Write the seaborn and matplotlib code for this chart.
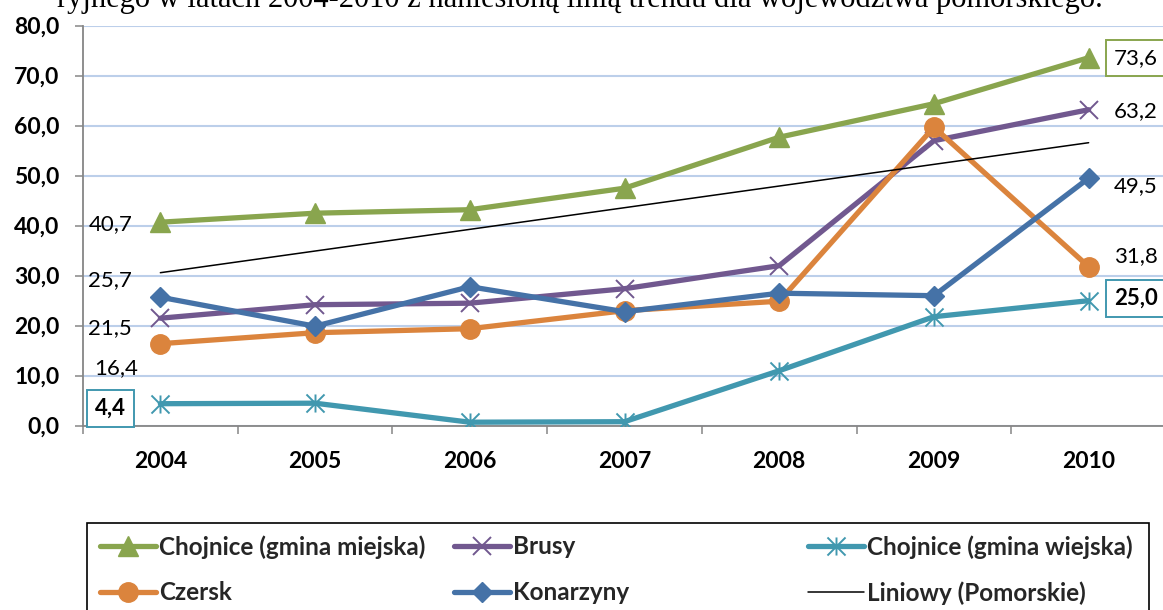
import numpy as np
import pandas as pd
import matplotlib
matplotlib.use("Agg")
import matplotlib.pyplot as plt
import seaborn as sns
from matplotlib.lines import Line2D
from matplotlib.path import Path
from matplotlib.patches import Rectangle

# ---------------- data ----------------
years = ["2004", "2005", "2006", "2007", "2008", "2009", "2010"]
chojnice_miejska = [40.7, 42.5, 43.2, 47.5, 57.7, 64.4, 73.6]
brusy = [21.5, 24.2, 24.5, 27.4, 32.0, 57.0, 63.2]
chojnice_wiejska = [4.4, 4.5, 0.7, 0.8, 11.0, 21.8, 25.0]
czersk = [16.4, 18.6, 19.4, 23.0, 24.9, 59.7, 31.8]
konarzyny = [25.7, 19.9, 27.8, 22.8, 26.5, 26.0, 49.5]
trend_years = ["2004", "2010"]
trend_pomorskie = [30.6, 56.6]
series_names = ["Chojnice (gmina miejska)", "Brusy", "Chojnice (gmina wiejska)",
                "Czersk", "Konarzyny", "Liniowy (Pomorskie)"]
y_ticks = [0, 10, 20, 30, 40, 50, 60, 70, 80]
header_text = "ryjnego w latach 2004-2010 z naniesioną linią trendu dla województwa pomorskiego."

# ---------------- style ----------------
W, H = 1163, 610
DPI = 100
sns.set_theme(style="white")
plt.rcParams["font.family"] = ["Lato", "DejaVu Sans"]

C_GREEN = "#89A54E"
C_PURPLE = "#71588F"
C_TEAL = "#4198AF"
C_ORANGE = "#DB843D"
C_BLUE = "#4572A7"
C_GRID = "#BCCFEA"
C_AXIS = "#868686"

star = Path([(0, -1), (0, 1), (-1, -1), (1, 1), (-1, 1), (1, -1)],
            [Path.MOVETO, Path.LINETO, Path.MOVETO, Path.LINETO, Path.MOVETO, Path.LINETO])

LW = 3.8
styles = [
    dict(color=C_GREEN, marker="^", ms=14, mec=C_GREEN, mfc=C_GREEN, mew=1),
    dict(color=C_PURPLE, marker="x", ms=13, mec=C_PURPLE, mew=1.4),
    dict(color=C_TEAL, marker=star, ms=13, mec=C_TEAL, mew=1.4),
    dict(color=C_ORANGE, marker="o", ms=14, mec=C_ORANGE, mfc=C_ORANGE, mew=1),
    dict(color=C_BLUE, marker="D", ms=10, mec=C_BLUE, mfc=C_BLUE, mew=1),
]
all_series = [chojnice_miejska, brusy, chojnice_wiejska, czersk, konarzyny]

fig = plt.figure(figsize=(W / DPI, H / DPI), dpi=DPI)
ax_left, ax_right, ax_top, ax_bottom = 83, 1166, 25.7, 425.7
ax = fig.add_axes([ax_left / W, (H - ax_bottom) / H,
                   (ax_right - ax_left) / W, (ax_bottom - ax_top) / H])

# gridlines
ax.set_ylim(0, 80)
ax.set_yticks(y_ticks)
ax.yaxis.grid(True, color=C_GRID, lw=1.5)
ax.set_axisbelow(True)

for vals, st, z in zip(all_series, styles, range(5)):
    sns.lineplot(x=years, y=vals, ax=ax, lw=LW, zorder=3 + z, sort=False, **st)

sns.lineplot(x=trend_years, y=trend_pomorskie, ax=ax, color="black", lw=1.1, zorder=9)

ax.set_xlim(-0.5, 6.5)
ax.set_xlabel("")
ax.set_ylabel("")

# spines / ticks
for s in ["top", "right"]:
    ax.spines[s].set_visible(False)
for s in ["left", "bottom"]:
    ax.spines[s].set_color(C_AXIS)
    ax.spines[s].set_linewidth(1.3)

TICK_FS = 16.5
ax.set_yticklabels([f"{v:.1f}".replace(".", ",") for v in y_ticks],
                   fontsize=TICK_FS, fontweight="bold", color="black")
ax.tick_params(axis="y", which="major", length=6, width=1.1, color=C_AXIS,
               direction="out", pad=11, left=True)
ax.set_xticks(range(len(years)))
ax.set_xticklabels(years, fontsize=TICK_FS, fontweight="bold", color="black")
ax.set_xticks(np.arange(-0.5, len(years), 1.0), minor=True)
ax.tick_params(axis="x", which="major", length=0, pad=18)
ax.tick_params(axis="x", which="minor", length=6, width=1.1, color=C_AXIS,
               direction="out", bottom=True)

# ---------------- data labels ----------------
LBL_FS = 16


def label(i, v, dx, dy, ha="center", bold=False, box=None):
    kw = dict(xy=(i, v), xytext=(dx, dy), textcoords="offset pixels",
              ha=ha, va="center", fontsize=LBL_FS, color="black",
              fontweight="bold" if bold else "normal", zorder=12, annotation_clip=False)
    if box:
        kw["bbox"] = dict(boxstyle="square,pad=0.36", fc="white", ec=box, lw=1.4)
    ax.annotate(f"{v:.1f}".replace(".", ","), **kw)


label(0, chojnice_miejska[0], -50, -2)
label(0, konarzyny[0], -50, 17)
label(0, brusy[0], -50, -10)
label(0, czersk[0], -44, -24)
label(0, chojnice_wiejska[0], -50, -5, bold=True, box=C_TEAL)
label(6, chojnice_miejska[6], 25, 0, ha="left", box=C_GREEN)
label(6, brusy[6], 25, -1, ha="left")
label(6, konarzyny[6], 25, -8, ha="left")
label(6, czersk[6], 25, 11, ha="left")
label(6, chojnice_wiejska[6], 25, 2, ha="left", bold=True, box=C_TEAL)

# ---------------- legend ----------------
fig.patches.append(Rectangle((87 / W, (H - 660) / H), (1149 - 87) / W, (660 - 523) / H,
                             transform=fig.transFigure, fill=False, ec="black",
                             lw=1.2, clip_on=False))
handles = [Line2D([], [], lw=LW, **st) for st in styles]
handles.append(Line2D([], [], color="black", lw=1.1))
positions = [(100, 547), (454, 547), (808, 547), (100, 593), (454, 593), (808, 593)]
LEG_FS = 17.5
for h, name, (px, py) in zip(handles, series_names, positions):
    fig.legend(handles=[h], labels=[name], loc="center left",
               bbox_to_anchor=(px / W, (H - py) / H), frameon=False,
               borderpad=0, borderaxespad=0, handlelength=2.3, handletextpad=0.12,
               prop=dict(family=["Lato", "DejaVu Sans"], weight="bold", size=LEG_FS))

# ---------------- cropped header text ----------------
fig.text(1103 / W, (H - 7) / H, header_text, ha="right", va="baseline",
         fontsize=22, family=["Liberation Serif", "DejaVu Serif"], color="black")

fig.savefig("out.png", dpi=DPI)
